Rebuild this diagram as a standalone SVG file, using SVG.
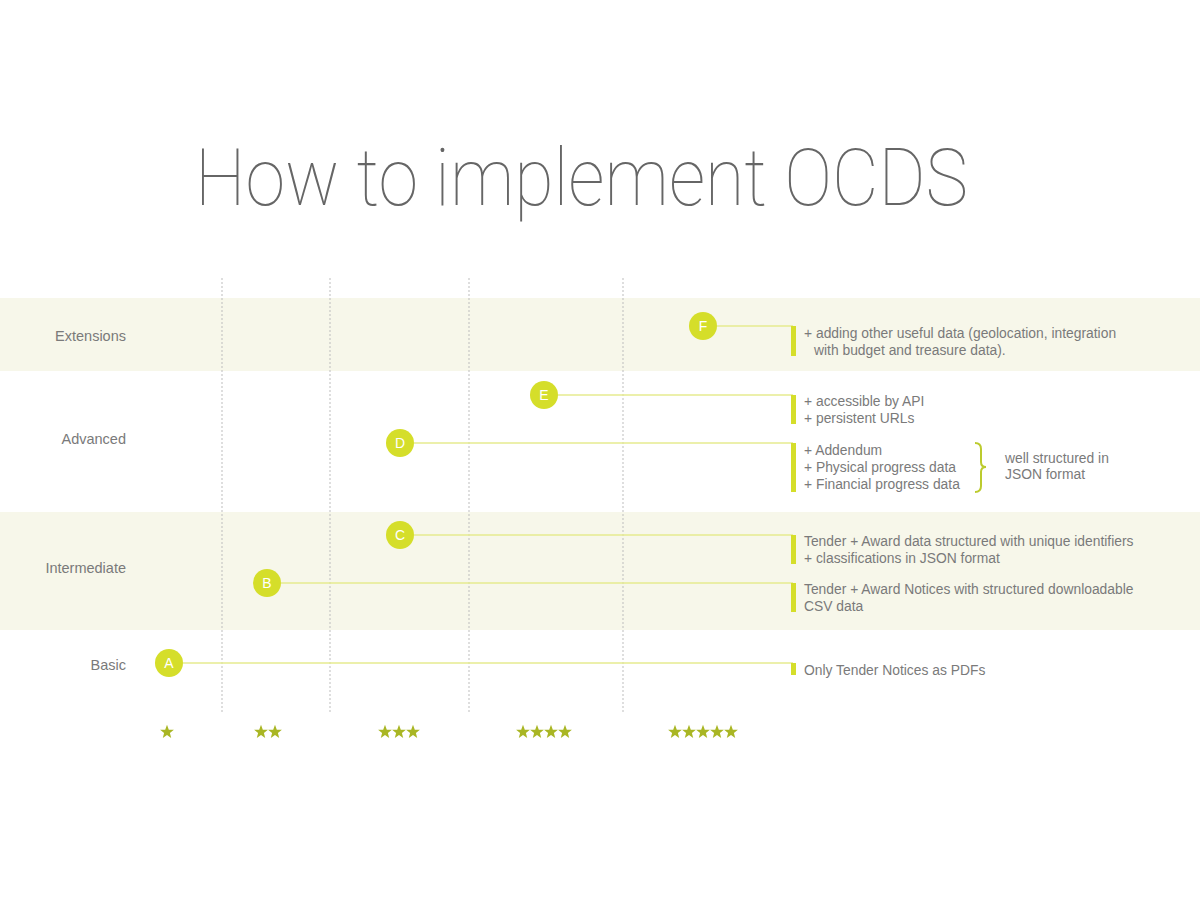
<svg xmlns="http://www.w3.org/2000/svg" width="1200" height="900" viewBox="0 0 1200 900">
<style>
.band{fill:#f7f7ea}
.grid{stroke:#bdbdbd;stroke-width:1;stroke-dasharray:2 2}
.lbl{font-family:"Liberation Sans",Arial,sans-serif;font-size:14.5px;fill:#7a7a7a}
.txt{font-family:"Liberation Sans",Arial,sans-serif;font-size:13.85px;fill:#7a7a7a}
.conn{stroke:#e6eb8f;stroke-width:1.5;fill:none}
.bar{fill:#d5de2a}
.dot{fill:#d5de2a}
.let{font-family:"Liberation Sans",Arial,sans-serif;font-size:14px;fill:#ffffff;text-anchor:middle}
.star{fill:#a9b624}
</style>
<defs>
<path id="st" d="M0,-7.2 L1.8,-2.3 L6.9,-2.2 L2.9,0.9 L4.2,5.9 L0,2.9 L-4.2,5.9 L-2.9,0.9 L-6.9,-2.2 L-1.8,-2.3 Z"/>
</defs>
<rect width="1200" height="900" fill="#ffffff"/>
<text x="195" y="205" font-family="Roboto, 'Liberation Sans', sans-serif" font-weight="100" font-size="80" fill="#666666" textLength="773" lengthAdjust="spacingAndGlyphs">How to implement OCDS</text>
<rect class="band" x="0" y="298" width="1200" height="73"/>
<rect class="band" x="0" y="512" width="1200" height="118"/>
<g id="grid">
<line class="grid" x1="222" y1="278" x2="222" y2="712"/>
<line class="grid" x1="330" y1="278" x2="330" y2="712"/>
<line class="grid" x1="469" y1="278" x2="469" y2="712"/>
<line class="grid" x1="623" y1="278" x2="623" y2="712"/>
</g>
<g id="row-labels">
<text class="lbl" x="126" y="341" text-anchor="end">Extensions</text>
<text class="lbl" x="126" y="444" text-anchor="end">Advanced</text>
<text class="lbl" x="126" y="573" text-anchor="end">Intermediate</text>
<text class="lbl" x="126" y="670" text-anchor="end">Basic</text>
</g>
<g id="connectors">
<line class="conn" x1="717" y1="326" x2="793" y2="326"/>
<line class="conn" x1="558" y1="395" x2="793" y2="395"/>
<line class="conn" x1="414" y1="443" x2="793" y2="443"/>
<line class="conn" x1="414" y1="535" x2="793" y2="535"/>
<line class="conn" x1="281" y1="583" x2="793" y2="583"/>
<line class="conn" x1="183" y1="663" x2="793" y2="663"/>
</g>
<g id="node-F">
<circle class="dot" cx="703" cy="326" r="14"/>
<text class="let" x="703" y="331">F</text>
<rect class="bar" x="791" y="326" width="5" height="30"/>
<text class="txt" x="804" y="338">+ adding other useful data (geolocation, integration</text>
<text class="txt" x="814" y="355">with budget and treasure data).</text>
</g>
<g id="node-E">
<circle class="dot" cx="544" cy="395" r="14"/>
<text class="let" x="544" y="400">E</text>
<rect class="bar" x="791" y="395" width="5" height="29"/>
<text class="txt" x="804" y="406">+ accessible by API</text>
<text class="txt" x="804" y="423">+ persistent URLs</text>
</g>
<g id="node-D">
<circle class="dot" cx="400" cy="443" r="14"/>
<text class="let" x="400" y="448">D</text>
<rect class="bar" x="791" y="443" width="5" height="49"/>
<text class="txt" x="804" y="455">+ Addendum</text>
<text class="txt" x="804" y="472">+ Physical progress data</text>
<text class="txt" x="804" y="489">+ Financial progress data</text>
<path d="M975,443 Q981,443 981,449 L981,462 Q981,467 986,467 Q981,467 981,472 L981,486 Q981,492 975,492" fill="none" stroke="#bccb2e" stroke-width="2"/>
<text class="txt" x="1005" y="463">well structured in</text>
<text class="txt" x="1005" y="479">JSON format</text>
</g>
<g id="node-C">
<circle class="dot" cx="400" cy="535" r="14"/>
<text class="let" x="400" y="540">C</text>
<rect class="bar" x="791" y="535" width="5" height="29"/>
<text class="txt" x="804" y="546">Tender + Award data structured with unique identifiers</text>
<text class="txt" x="804" y="563">+ classifications in JSON format</text>
</g>
<g id="node-B">
<circle class="dot" cx="267" cy="583" r="14"/>
<text class="let" x="267" y="588">B</text>
<rect class="bar" x="791" y="583" width="5" height="29"/>
<text class="txt" x="804" y="594">Tender + Award Notices with structured downloadable</text>
<text class="txt" x="804" y="611">CSV data</text>
</g>
<g id="node-A">
<circle class="dot" cx="169" cy="663" r="14"/>
<text class="let" x="169" y="668">A</text>
<rect class="bar" x="791" y="663" width="5" height="12"/>
<text class="txt" x="804" y="675">Only Tender Notices as PDFs</text>
</g>
<g id="stars" class="star">
<use href="#st" x="167" y="732"/>
<use href="#st" x="261" y="732"/><use href="#st" x="275" y="732"/>
<use href="#st" x="385" y="732"/><use href="#st" x="399" y="732"/><use href="#st" x="413" y="732"/>
<use href="#st" x="523" y="732"/><use href="#st" x="537" y="732"/><use href="#st" x="551" y="732"/><use href="#st" x="565" y="732"/>
<use href="#st" x="675" y="732"/><use href="#st" x="689" y="732"/><use href="#st" x="703" y="732"/><use href="#st" x="717" y="732"/><use href="#st" x="731" y="732"/>
</g>
</svg>
